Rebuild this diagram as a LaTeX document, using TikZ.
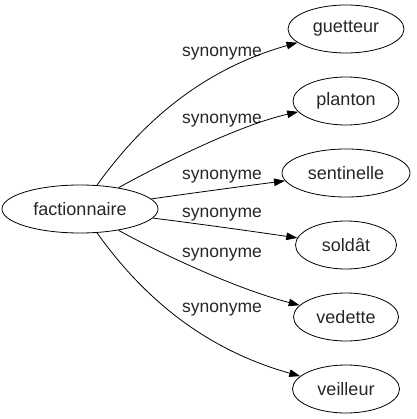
\documentclass[tikz,border=0pt]{standalone}
\usepackage{fontspec}
\setmainfont{Liberation Sans}
\usetikzlibrary{shapes.geometric, arrows.meta}
\colorlet{TextGray}{black!85}
\colorlet{EdgeLine}{black}

\begin{document}
\begin{tikzpicture}[
    x=1pt, y=-1pt,
    term/.style={
        ellipse, draw=EdgeLine, line width=0.8pt, inner sep=0pt,
        minimum height=48pt, text=TextGray,
        font=\fontsize{18}{21}\selectfont
    },
    syn/.style={font=\fontsize{17.5}{21}\selectfont, text=TextGray,
                inner sep=0pt, anchor=base},
    arr/.style={-{Triangle[length=11pt, width=7.5pt]}, line width=0.8pt,
                EdgeLine}
]
\useasboundingbox (0,0) rectangle (416,419);

% ===================================================================
% SOURCE WORD
% ===================================================================
\node[term, minimum width=156pt] (fact) at (80,209) {factionnaire};

% ===================================================================
% SYNONYMS
% ===================================================================
\node[term, minimum width=116pt] (guet) at (346,29)  {guetteur};
\node[term, minimum width=106pt] (plan) at (346,101) {planton};
\node[term, minimum width=128pt] (sent) at (346,173) {sentinelle};
\node[term, minimum width=101pt] (sold) at (346,245) {soldât};
\node[term, minimum width=105pt] (vede) at (346,317) {vedette};
\node[term, minimum width=107pt] (veil) at (346,389) {veilleur};

% edge labels
\node[syn] (lguet) at (222,57)  {synonyme};
\node[syn] (lplan) at (222,124) {synonyme};
\node[syn] (lsent) at (222,180) {synonyme};
\node[syn] (lsold) at (222,217) {synonyme};
\node[syn] (lvede) at (222,257) {synonyme};
\node[syn] (lveil) at (222,312) {synonyme};

% ===================================================================
% ARROWS
% ===================================================================
\draw[arr] (fact) .. controls (140,125) and (200,70)  .. (guet);
\draw[arr] (fact) .. controls (165,162) and (240,125) .. (plan);
\draw[arr] (fact) .. controls (200,192) and (245,186) .. (sent);
\draw[arr] (fact) .. controls (200,224) and (250,231) .. (sold);
\draw[arr] (fact) .. controls (165,256) and (240,290) .. (vede);
\draw[arr] (fact) .. controls (140,293) and (200,348) .. (veil);

\end{tikzpicture}
\end{document}
